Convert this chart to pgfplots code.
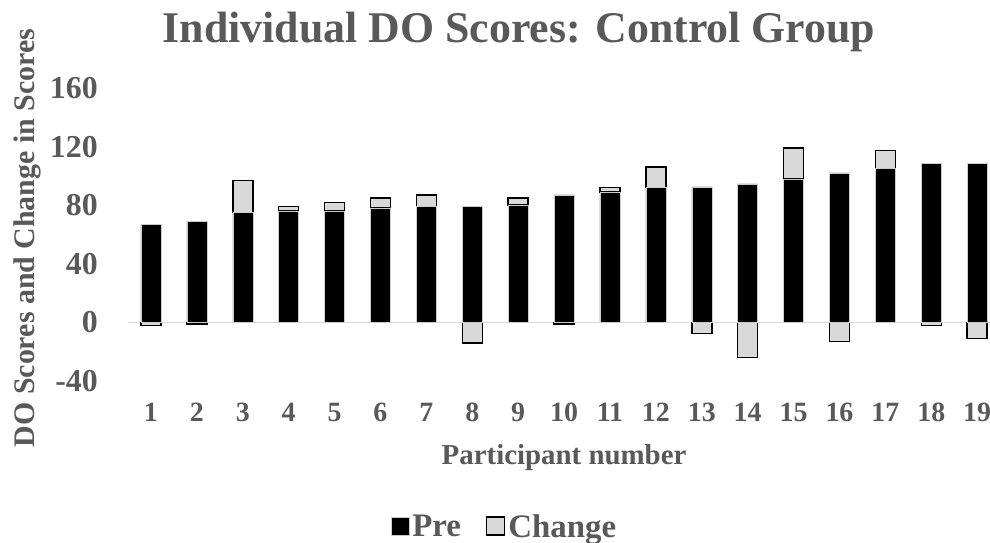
\documentclass[border=0pt]{standalone}
\usepackage{fontspec}
\setmainfont{Liberation Serif}
\usepackage{pgfplots}
\pgfplotsset{compat=1.18}
\usepackage{pgfplotstable}

\definecolor{txtgray}{HTML}{595959}
\definecolor{chgfill}{HTML}{D9D9D9}
\definecolor{zeroline}{HTML}{D9D9D9}

\pgfplotstableread{
id pre change
1 67 -2
2 69 -1
3 75 22
4 76 3
5 76 6
6 78 7
7 79 8
8 79 -14
9 80 5
10 87 -1
11 89 3
12 92 14
13 92.5 -7.5
14 94.5 -24
15 98 21
16 102 -13
17 105 12.5
18 108.5 -2
19 108.5 -11
}\scores

\begin{document}
\begin{tikzpicture}
\path[use as bounding box] (0,0) rectangle (990bp,-543bp);
\begin{axis}[
    at={(128bp,-381bp)}, anchor=south west,
    scale only axis,
    width=862bp, height=293bp,
    ybar stacked,
    stack negative=separate,
    bar width=20bp,
    xmin=0.5, xmax=19.28,
    ymin=-40, ymax=160,
    xtick={1,...,19},
    ytick={-40,0,...,160},
    axis line style={draw=none},
    major tick length=0pt,
    extra y ticks={0},
    extra y tick labels={},
    extra y tick style={grid=major, grid style={color=zeroline, line width=1.5bp}},
    /pgf/number format/assume math mode=true,
    yticklabel style={font=\fontsize{32}{32}\selectfont\bfseries, color=txtgray, inner sep=0pt, anchor=east},
    yticklabel shift=30bp,
    xticklabel style={font=\fontsize{28}{28}\selectfont\bfseries, color=txtgray, inner sep=0pt, anchor=north},
    xticklabel shift=22bp,
    xlabel={Participant number},
    xlabel style={font=\fontsize{29}{29}\selectfont\bfseries, color=txtgray, inner sep=0pt,
        at={(axis description cs:0.5059,-0.26)}, anchor=center},
    ylabel={DO Scores and Change in Scores},
    ylabel style={font=\fontsize{30}{30}\selectfont\bfseries, color=txtgray, inner sep=0pt,
        at={(axis description cs:-0.117,0.488)}, anchor=center, rotate=0},
    title={Individual DO Scores: Control Group},
    title style={font=\fontsize{44}{44}\selectfont\bfseries, color=txtgray, inner sep=0pt,
        at={(axis description cs:0.4536,1.172)}, anchor=center},
    legend columns=2,
    legend style={draw=none, fill=none, at={(axis description cs:0.4374,-0.498)}, anchor=center,
        font=\fontsize{33}{33}\selectfont\bfseries, text=txtgray,
        nodes={inner xsep=3bp},
        /tikz/every even column/.append style={column sep=22bp}},
    legend image code/.code={\draw[#1] (0bp,-8bp) rectangle (18bp,10bp);},
]
\addplot[fill=black, draw=gray!40, line width=0.5bp] table[x=id, y=pre] {\scores};
\addplot[fill=chgfill, draw=black, line width=1.5bp] table[x=id, y=change] {\scores};
\legend{Pre, Change}
\end{axis}
\end{tikzpicture}
\end{document}
